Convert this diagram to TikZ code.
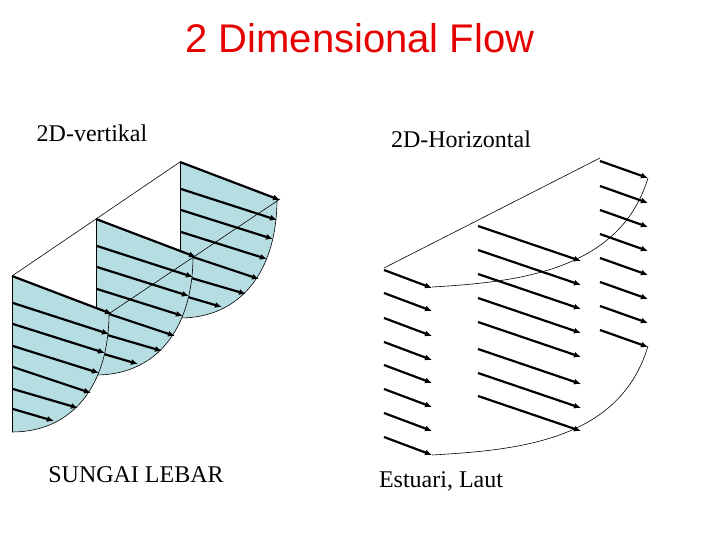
\documentclass[tikz,border=0pt]{standalone}
\usepackage{fontspec}
\setmainfont{Liberation Serif}
\newfontfamily\arialf{Liberation Sans}
\usetikzlibrary{arrows.meta}
\definecolor{flowblue}{RGB}{182,221,226}
\definecolor{titlered}{RGB}{230,0,0}
\tikzset{
  arr/.style={line width=2.2pt,-{Latex[length=7pt,width=6pt]}},
  thin/.style={line width=0.6pt},
  lbl/.style={font=\fontsize{24}{26}\selectfont,inner sep=0pt}
}
\begin{document}
\begin{tikzpicture}[x=1pt,y=-1pt]
\useasboundingbox (0,0) rectangle (720,540);
\node[font=\arialf\fontsize{40}{42}\selectfont,text=titlered] (title) at (360,38) {2 Dimensional Flow};
\node[lbl] (l1) at (92,133) {2D-vertikal};
\node[lbl] (l2) at (461,139) {2D-Horizontal};
\node[lbl] (l3) at (136,475) {SUNGAI LEBAR};
\node[lbl] (l4) at (441,481) {Estuari, Laut};
% left panel profiles, back to front
\foreach \sx/\sy in {168/-114, 84/-57, 0/0}{
 \begin{scope}[shift={(12+\sx,276+\sy)}]
  \fill[flowblue] (0,0) -- (97,37) .. controls (97,110) and (60,156) .. (0,156) -- cycle;
  \draw[thin] (0,0) -- (0,156);
  \draw[thin] (97,37) .. controls (97,110) and (60,156) .. (0,156);
  \coordinate (s0) at (0,0); \coordinate (e0) at (100,38);
  \draw[arr] (s0) -- (e0);
  \foreach \ys/\xe/\ye in {27/97/58, 48/93/77, 70/87/97, 91/79/117, 113/66/132, 133/42/145}{
    \coordinate (s) at (1,\ys); \coordinate (e) at (\xe,\ye);
    \draw[arr] (s) -- (e);
  }
 \end{scope}
}
\coordinate (t1) at (12,276); \coordinate (t3) at (180,162);
\coordinate (a1) at (110,313); \coordinate (a3) at (280,199);
\draw[thin] (t1) -- (t3);
\draw[thin] (a1) -- (a3);
% right panel
\coordinate (c1) at (384,268); \coordinate (c2) at (600,158);
\draw[thin] (c1) -- (c2);
\foreach \y in {270,293,318,342,365,389,413,437}{
  \coordinate (s) at (384,\y); \coordinate (e) at (432,\y+18);
  \draw[arr] (s) -- (e);}
\foreach \y in {226,250,274,298,322,349,373,396}{
  \coordinate (s) at (478,\y); \coordinate (e) at (581,\y+35);
  \draw[arr] (s) -- (e);}
\foreach \y in {161,186,210,234,258,282,306,330}{
  \coordinate (s) at (600,\y); \coordinate (e) at (648,\y+17);
  \draw[arr] (s) -- (e);}
\coordinate (p1) at (432,287); \coordinate (p2) at (648,178);
\coordinate (q1) at (432,455); \coordinate (q2) at (648,346);
\draw[thin] (p1) .. controls (520,282) and (620,270) .. (p2);
\draw[thin] (q1) .. controls (520,450) and (620,440) .. (q2);
\end{tikzpicture}
\end{document}
